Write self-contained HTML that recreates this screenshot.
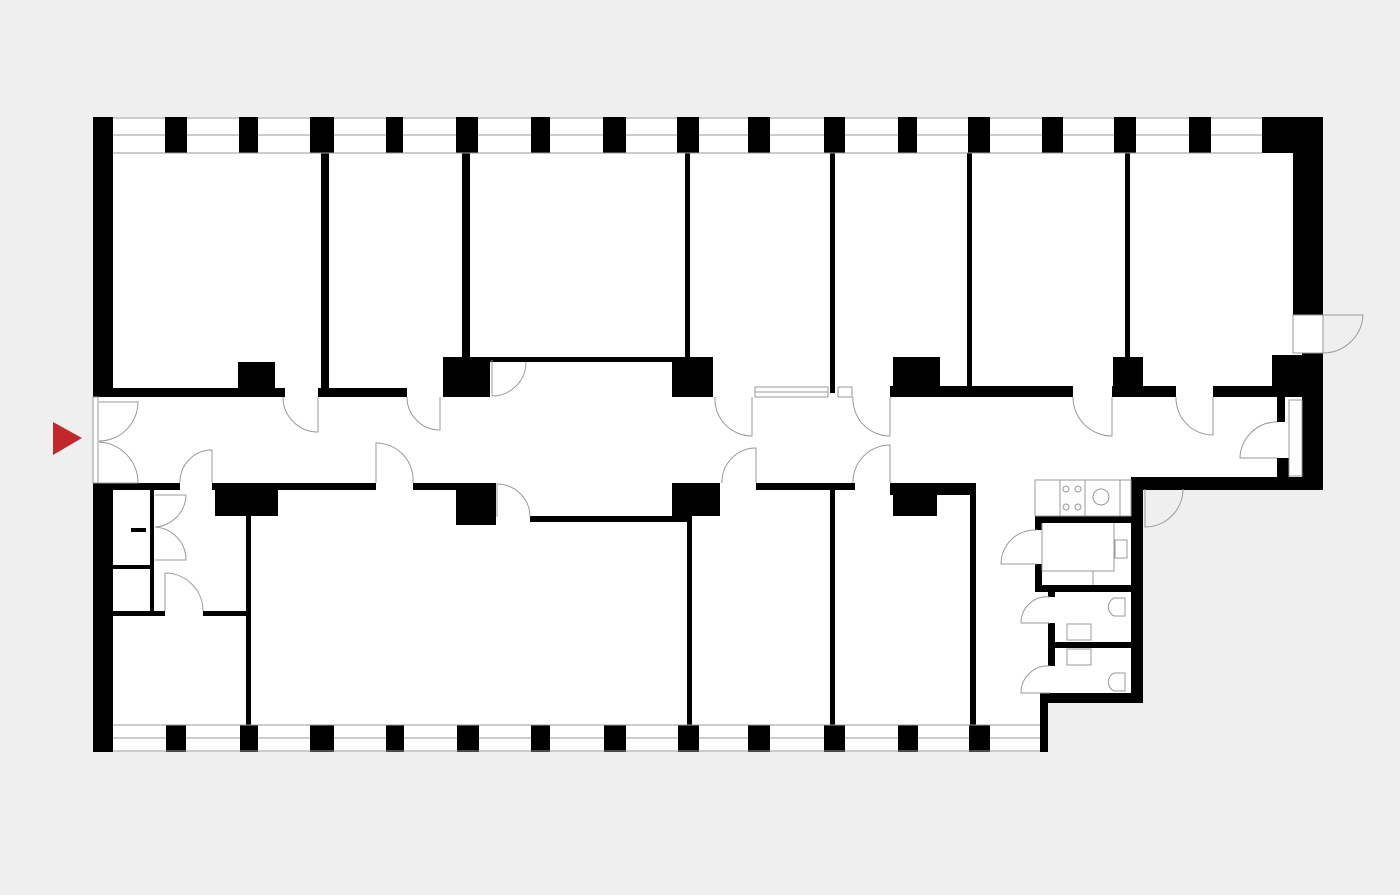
<!DOCTYPE html>
<html><head><style>html,body{margin:0;padding:0;background:#efefef;}svg{display:block}</style></head>
<body>
<svg width="1400" height="895" viewBox="0 0 1400 895" xmlns="http://www.w3.org/2000/svg">
<rect width="1400" height="895" fill="#efefef"/>
<!-- building footprint -->
<polygon points="93,117 1323,117 1323,490 1143,490 1143,703 1048,703 1048,752 93,752" fill="#fff"/>
<g fill="#000">
<!-- left wall -->
<rect x="93" y="117" width="20" height="280"/>
<rect x="93" y="483" width="20" height="269"/>
<!-- top piers -->
<rect x="165" y="117" width="22" height="36"/><rect x="239" y="117" width="19" height="36"/>
<rect x="310" y="117" width="24" height="36"/><rect x="386" y="117" width="17" height="36"/>
<rect x="456" y="117" width="22" height="36"/><rect x="531" y="117" width="19" height="36"/>
<rect x="603" y="117" width="23" height="36"/><rect x="677" y="117" width="22" height="36"/>
<rect x="748" y="117" width="22" height="36"/><rect x="824" y="117" width="21" height="36"/>
<rect x="898" y="117" width="19" height="36"/><rect x="968" y="117" width="22" height="36"/>
<rect x="1042" y="117" width="21" height="36"/><rect x="1114" y="117" width="22" height="36"/>
<rect x="1189" y="117" width="22" height="36"/><rect x="1262" y="117" width="61" height="36"/>
<!-- right wall -->
<rect x="1293" y="117" width="30" height="198"/>
<rect x="1302" y="353" width="21" height="137"/>
<rect x="1272" y="355" width="51" height="42"/>
<rect x="1277" y="397" width="8" height="25"/><rect x="1277" y="458" width="12" height="22"/>
<rect x="1143" y="477" width="180" height="13"/>
<rect x="1131" y="477" width="12" height="226"/>
<rect x="1048" y="693" width="95" height="10"/>
<rect x="1040" y="693" width="8" height="59"/>
<!-- bottom piers -->
<rect x="166" y="725" width="20" height="27"/><rect x="240" y="725" width="18" height="27"/>
<rect x="310" y="725" width="24" height="27"/><rect x="386" y="725" width="18" height="27"/>
<rect x="457" y="725" width="22" height="27"/><rect x="531" y="725" width="19" height="27"/>
<rect x="604" y="725" width="22" height="27"/><rect x="678" y="725" width="21" height="27"/>
<rect x="748" y="725" width="22" height="27"/><rect x="824" y="725" width="21" height="27"/>
<rect x="898" y="725" width="20" height="27"/><rect x="969" y="725" width="21" height="27"/>
<!-- top room vertical walls -->
<rect x="321" y="153" width="8" height="240"/><rect x="462" y="153" width="8" height="210"/>
<rect x="685" y="153" width="5" height="210"/><rect x="830" y="153" width="5" height="240"/>
<rect x="967" y="153" width="5" height="240"/><rect x="1125" y="153" width="5" height="210"/>
<!-- upper corridor wall -->
<rect x="113" y="388" width="172" height="9"/><rect x="238" y="362" width="37" height="30"/>
<rect x="318" y="388" width="89" height="9"/>
<rect x="443" y="357" width="47" height="40"/>
<rect x="490" y="357" width="182" height="5"/>
<rect x="672" y="357" width="41" height="40"/>
<rect x="890" y="386" width="183" height="11"/><rect x="893" y="357" width="47" height="40"/>
<rect x="1112" y="386" width="64" height="11"/><rect x="1113" y="357" width="30" height="40"/>
<rect x="1213" y="386" width="59" height="11"/>
<!-- lower corridor wall -->
<rect x="113" y="483" width="67" height="7"/><rect x="212" y="483" width="164" height="7"/>
<rect x="215" y="483" width="63" height="33"/>
<rect x="413" y="483" width="83" height="7"/><rect x="456" y="483" width="40" height="42"/>
<rect x="530" y="516" width="160" height="6"/>
<rect x="672" y="483" width="48" height="33"/><rect x="756" y="483" width="99" height="7"/>
<rect x="890" y="483" width="86" height="12"/><rect x="893" y="483" width="44" height="33"/>
<rect x="970" y="483" width="6" height="242"/>
<!-- lower rooms -->
<rect x="246" y="516" width="5" height="209"/><rect x="687" y="516" width="5" height="209"/>
<rect x="830" y="490" width="5" height="235"/>
<rect x="150" y="487" width="4" height="124"/><rect x="113" y="565" width="40" height="4"/>
<rect x="131" y="528" width="15" height="4"/>
<rect x="113" y="611" width="52" height="5"/><rect x="203" y="611" width="44" height="5"/>
<!-- bathroom block -->
<rect x="1035" y="516" width="96" height="7"/>
<rect x="1035" y="516" width="7" height="14"/><rect x="1035" y="564" width="7" height="28"/>
<rect x="1035" y="585" width="96" height="7"/>
<rect x="1048" y="585" width="7" height="12"/><rect x="1048" y="623" width="7" height="43"/>
<rect x="1055" y="642" width="76" height="6"/>
</g>
<g fill="none" stroke="#999" stroke-width="1">
<!-- top windows -->
<path d="M113,118H165M187,118H239M258,118H310M334,118H386M403,118H456M478,118H531M550,118H603M626,118H677M699,118H748M770,118H824M845,118H898M917,118H968M990,118H1042M1063,118H1114M1136,118H1189M1211,118H1262"/>
<path d="M113,135H165M187,135H239M258,135H310M334,135H386M403,135H456M478,135H531M550,135H603M626,135H677M699,135H748M770,135H824M845,135H898M917,135H968M990,135H1042M1063,135H1114M1136,135H1189M1211,135H1262"/>
<path d="M113,153H1262"/>
<!-- bottom windows -->
<path d="M113,725H1040M113,738H166M186,738H240M258,738H310M334,738H386M404,738H457M479,738H531M550,738H604M626,738H678M699,738H748M770,738H824M845,738H898M918,738H969M990,738H1040M113,751H1040"/>
<!-- top middle window in corridor wall -->
<rect x="755" y="387" width="73" height="10"/><path d="M755,392H828"/>
<rect x="838" y="387" width="14" height="10"/>
<!-- right exterior -->
<rect x="1293" y="315" width="30" height="38"/>
<rect x="1289" y="400" width="13" height="76"/>
<!-- entrance frame -->
<rect x="93" y="397" width="5" height="86"/>
<!-- doors -->
<path d="M318,397V432A35,35 0 0 1 283,397"/>
<path d="M440,397V430A33,33 0 0 1 407,397"/>
<path d="M492,360V396M492,396A34,34 0 0 0 526,362"/>
<path d="M752,397V436A37,37 0 0 1 715,397"/>
<path d="M890,397V436A37,37 0 0 1 853,397"/>
<path d="M1112,397V436A39,39 0 0 1 1073,397"/>
<path d="M1213,397V435A37,37 0 0 1 1176,397"/>
<path d="M1277,458H1240A37,37 0 0 1 1277,422"/>
<path d="M212,483V450A32,32 0 0 0 180,483"/>
<path d="M376,483V443A37,37 0 0 1 413,483"/>
<path d="M497,517V484A33,33 0 0 1 530,517"/>
<path d="M756,483V448A34,34 0 0 0 722,483"/>
<path d="M890,483V445A37,37 0 0 0 853,483"/>
<path d="M99,402H138A39,39 0 0 1 99,441"/>
<path d="M99,483H138A41,41 0 0 0 99,442"/>
<path d="M1145,489V527A38,38 0 0 0 1183,489"/>
<path d="M1037,564H1001A34,34 0 0 1 1037,530"/>
<path d="M1050,623H1021A26,26 0 0 1 1050,597"/>
<path d="M1050,693H1021A27,27 0 0 1 1050,666"/>
<path d="M1323,315H1363A40,40 0 0 1 1323,353"/>
<path d="M155,495H186A33,33 0 0 1 155,527M155,560H186A33,33 0 0 0 155,527"/>
<path d="M165,611V573A38,38 0 0 1 203,611"/>
<!-- kitchen -->
<rect x="1035" y="480" width="96" height="36"/>
<path d="M1060,480V516M1085,480V516M1120,480V516"/>
<circle cx="1066" cy="489" r="3"/><circle cx="1078" cy="489" r="3"/>
<circle cx="1066" cy="507" r="3"/><circle cx="1078" cy="507" r="3"/>
<circle cx="1101" cy="497" r="8"/>
<!-- bathroom -->
<path d="M1042,571H1114V523M1042,571"/>
<path d="M1042,571V523"/><path d="M1093,571V585"/>
<rect x="1115" y="540" width="12" height="18"/>
<!-- toilets -->
<path d="M1125,598H1114A10,10 0 0 0 1114,616H1125Z"/>
<path d="M1125,673H1114A10,10 0 0 0 1114,691H1125Z"/>
<rect x="1067" y="624" width="24" height="16"/><rect x="1067" y="649" width="24" height="16"/>
</g>
<!-- entrance arrow -->
<polygon points="53,422 82,438 53,455" fill="#c0282d"/>
</svg>
</body></html>
